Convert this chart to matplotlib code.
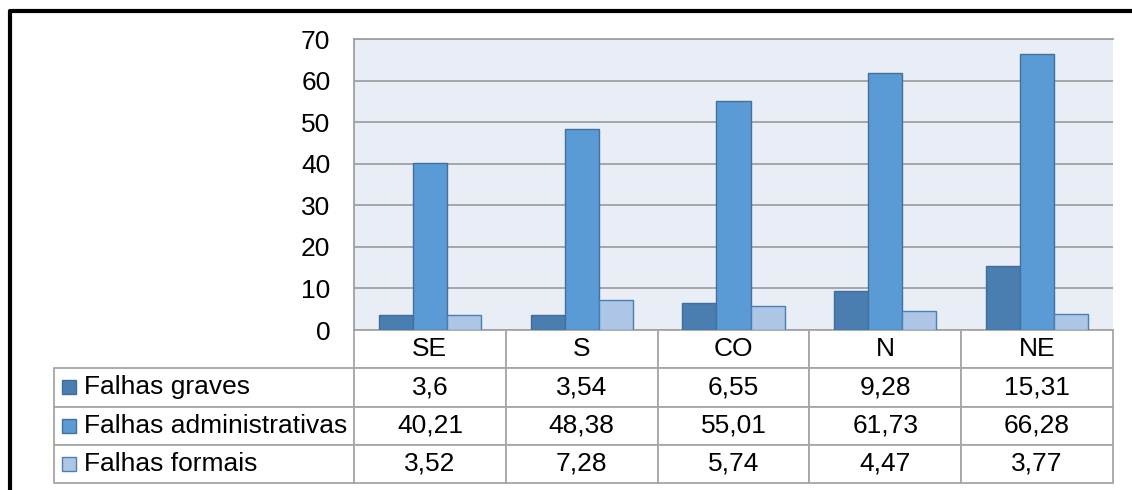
import matplotlib
matplotlib.use("Agg")
import matplotlib.pyplot as plt
from matplotlib.lines import Line2D
from matplotlib.patches import Rectangle
import numpy as np

plt.rcParams['font.family'] = ['Liberation Sans', 'DejaVu Sans']

regioes = ['SE', 'S', 'CO', 'N', 'NE']
series = ['Falhas graves', 'Falhas administrativas', 'Falhas formais']
graves = [3.6, 3.54, 6.55, 9.28, 15.31]
administrativas = [40.21, 48.38, 55.01, 61.73, 66.28]
formais = [3.52, 7.28, 5.74, 4.47, 3.77]

cores = ['#4A7EB0', '#5B9BD5', '#ADC6E5']
bordas = ['#3F6E9C', '#41719C', '#4A7EB4']

W, H = 1132, 490
fig = plt.figure(figsize=(W / 100, H / 100), dpi=100)

# area do grafico em pixels
x0, x1, ytop, ybot = 354, 1113, 39, 330
ax = fig.add_axes([x0 / W, 1 - ybot / H, (x1 - x0) / W, (ybot - ytop) / H])
ax.set_facecolor('#E9EDF6')

x = np.arange(len(regioes))
larg = 0.224
valores = [graves, administrativas, formais]
for i, v in enumerate(valores):
    ax.bar(x + (i - 1) * larg, v, larg, color=cores[i], edgecolor=bordas[i],
           linewidth=1.0, zorder=3, label=series[i])

ax.set_xlim(-0.5, len(regioes) - 0.5)
ax.set_ylim(0, 70)
ax.set_yticks(range(0, 71, 10))
ax.yaxis.grid(True, color='#A0A0A0', linewidth=1.3, zorder=1)
ax.set_xticks([])
ax.tick_params(axis='y', length=0, pad=17, labelsize=19)
for s in ['right', 'bottom']:
    ax.spines[s].set_visible(False)
ax.spines['left'].set_color('#A0A0A0')
ax.spines['left'].set_linewidth(1.3)
ax.spines['top'].set_color('#A0A0A0')
ax.spines['top'].set_linewidth(1.3)

# tabela de dados abaixo do grafico
tx0, tybot = 54, 483
axw, axh = x1 - x0, ybot - ytop
bx = (tx0 - x0) / axw
bw = (x1 - tx0) / axw
bh = (tybot - ybot) / axh
by = -bh

linhas = []
for nome, v in zip(series, valores):
    linhas.append([nome] + [f'{n:g}'.replace('.', ',') for n in v])

label_w = (x0 - tx0) / (x1 - tx0)
col_w = (1 - label_w) / len(regioes)
tab = ax.table(cellText=linhas, colLabels=[''] + regioes,
               colWidths=[label_w] + [col_w] * len(regioes),
               cellLoc='center', bbox=[bx, by, bw, bh])
tab.auto_set_font_size(False)
tab.set_fontsize(19)
for (r, c), cell in tab.get_celld().items():
    cell.set_edgecolor('#A6A6A6')
    cell.set_linewidth(1.3)
    if r == 0 and c == 0:
        cell.visible_edges = 'open'
    if c == 0 and r > 0:
        cell._loc = 'left'
        cell.get_text().set_horizontalalignment('left')
        cell.PAD = 0.1

# quadrados da legenda
rh = bh / 4
sq_w = 14 / axw
sq_h = 14 / axh
for i in range(3):
    cy = by + bh - rh * (i + 1.5)
    ax.add_patch(Rectangle(((62 - x0) / axw, cy - sq_h / 2), sq_w, sq_h,
                           transform=ax.transAxes, facecolor=cores[i],
                           edgecolor=bordas[i], linewidth=1.0, clip_on=False,
                           zorder=5))

# moldura preta
fig.add_artist(Line2D([9.5 / W, 9.5 / W, 1.0], [0.0, 1 - 11 / H, 1 - 11 / H],
                      transform=fig.transFigure, color='black', linewidth=3))

fig.savefig('out.png', dpi=100)
